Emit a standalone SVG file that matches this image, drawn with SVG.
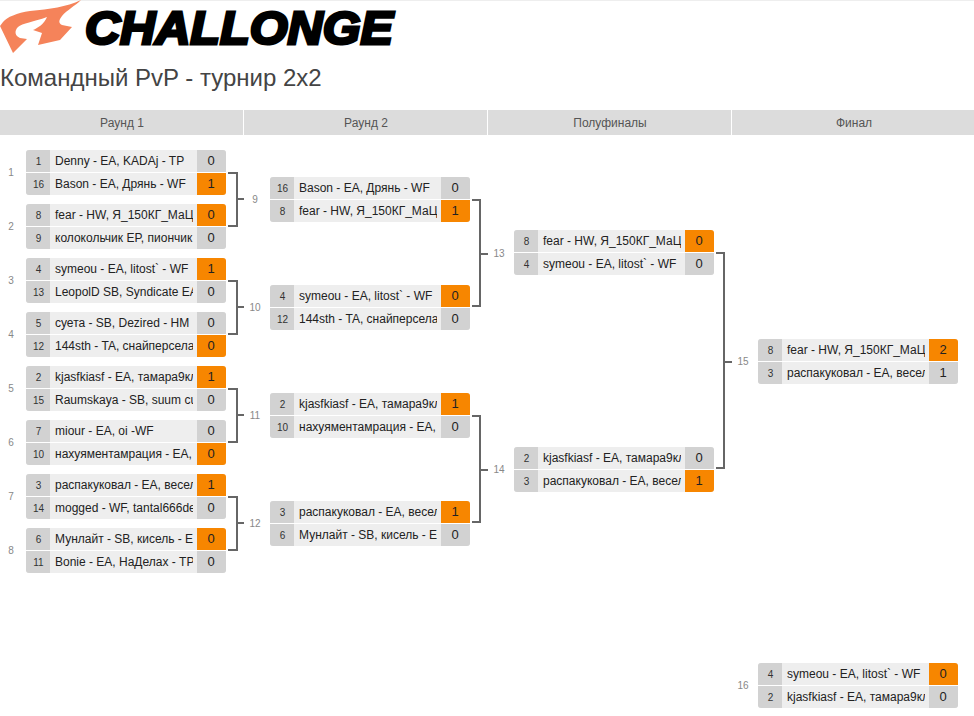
<svg xmlns="http://www.w3.org/2000/svg" width="974" height="716" viewBox="0 0 974 716">
<style>
text{font-family:"Liberation Sans",Arial,sans-serif}
.hd{fill:#dcdcdc}
.ht{font-size:12px;fill:#555;text-anchor:middle}
.bg{fill:#eee}
.sd{fill:#d2d2d2}
.win{fill:#f78600}
.seed{font-size:10px;fill:#333;text-anchor:middle}
.nm{font-size:12px;fill:#222}
.sc{font-size:13px;fill:#222;text-anchor:middle}
.lb{font-size:10px;fill:#888;text-anchor:middle}
.sep{stroke:#fff;stroke-width:1}
.br{fill:none;stroke:#666;stroke-width:2}
</style>
<defs>
<clipPath id="c"><rect x="0" y="0" width="167" height="45"/></clipPath>
<clipPath id="card"><rect x="0" y="0" width="200" height="45" rx="3"/></clipPath>
<g id="shell">
<rect class="bg" width="200" height="45"/>
<rect class="sd" width="24" height="45"/>
</g>
</defs>
<rect width="974" height="716" fill="#fff"/>
<rect width="974" height="1" fill="#eee"/>
<g id="logo">
<path fill="#f5835a" d="M81 0C66 7 50 9 30 11C17 13 7 17 3 22L0 26L13 53L27 39L20 38C15 36 14 31 18 27C22 23 34 22 47 17C44 24 38 28 33 30L42 33L38 45L60 40L72 27L62 25C58 23 59 20 62 16C67 10 75 6 81 0Z"/>
<text x="85" y="44" font-size="47" font-weight="bold" font-style="italic" fill="#000" stroke="#000" stroke-width="3" textLength="308" lengthAdjust="spacingAndGlyphs">CHALLONGE</text>
</g>
<text id="title" x="0" y="86" font-size="24" fill="#444">Командный PvP - турнир 2х2</text>
<g id="rounds">
<rect class="hd" x="0" y="110" width="243" height="25"/>
<rect class="hd" x="244" y="110" width="243" height="25"/>
<rect class="hd" x="488" y="110" width="243" height="25"/>
<rect class="hd" x="732" y="110" width="242" height="25"/>
<text class="ht" x="122" y="127">Раунд 1</text>
<text class="ht" x="366" y="127">Раунд 2</text>
<text class="ht" x="610" y="127">Полуфиналы</text>
<text class="ht" x="854" y="127">Финал</text>
</g>
<g id="connectors">
<path class="br" d="M228 173H237V226H228M237 199H244"/>
<path class="br" d="M228 281H237V334H228M237 307H244"/>
<path class="br" d="M228 389H237V442H228M237 415H244"/>
<path class="br" d="M228 497H237V550H228M237 523H244"/>
<path class="br" d="M472 200H480V306H472M480 254H488"/>
<path class="br" d="M472 416H480V522H472M480 470H488"/>
<path class="br" d="M716 253H724V468H716M724 362H732"/>
</g>
<g id="m1" transform="translate(26 150)"><g clip-path="url(#card)"><use href="#shell"/><rect class="sd" x="171" width="29" height="22"/><rect class="win" x="171" y="23" width="29" height="22"/><line class="sep" x1="0" x2="200" y1="22.5" y2="22.5"/></g><text class="seed" x="12.500" y="15">1</text><text class="seed" x="12.500" y="38">16</text><g clip-path="url(#c)"><text class="nm" x="29" y="15">Denny - EA, KADAj - TP</text><text class="nm" x="29" y="38">Bason - EA, Дрянь - WF</text></g><text class="sc" x="185" y="15">0</text><text class="sc" x="185" y="38">1</text></g>
<text class="lb" x="11" y="176">1</text>
<g id="m2" transform="translate(26 204)"><g clip-path="url(#card)"><use href="#shell"/><rect class="win" x="171" width="29" height="22"/><rect class="sd" x="171" y="23" width="29" height="22"/><line class="sep" x1="0" x2="200" y1="22.5" y2="22.5"/></g><text class="seed" x="12.500" y="15">8</text><text class="seed" x="12.500" y="38">9</text><g clip-path="url(#c)"><text class="nm" x="29" y="15">fear - HW, Я_150КГ_МаЦ</text><text class="nm" x="29" y="38">колокольчик EP, пиончик</text></g><text class="sc" x="185" y="15">0</text><text class="sc" x="185" y="38">0</text></g>
<text class="lb" x="11" y="230">2</text>
<g id="m3" transform="translate(26 258)"><g clip-path="url(#card)"><use href="#shell"/><rect class="win" x="171" width="29" height="22"/><rect class="sd" x="171" y="23" width="29" height="22"/><line class="sep" x1="0" x2="200" y1="22.5" y2="22.5"/></g><text class="seed" x="12.500" y="15">4</text><text class="seed" x="12.500" y="38">13</text><g clip-path="url(#c)"><text class="nm" x="29" y="15">symeou - EA, litost` - WF</text><text class="nm" x="29" y="38">LeopolD SB, Syndicate EA</text></g><text class="sc" x="185" y="15">1</text><text class="sc" x="185" y="38">0</text></g>
<text class="lb" x="11" y="284">3</text>
<g id="m4" transform="translate(26 312)"><g clip-path="url(#card)"><use href="#shell"/><rect class="sd" x="171" width="29" height="22"/><rect class="win" x="171" y="23" width="29" height="22"/><line class="sep" x1="0" x2="200" y1="22.5" y2="22.5"/></g><text class="seed" x="12.500" y="15">5</text><text class="seed" x="12.500" y="38">12</text><g clip-path="url(#c)"><text class="nm" x="29" y="15">суета - SB, Dezired - HM</text><text class="nm" x="29" y="38">144sth - TA, снайперсела</text></g><text class="sc" x="185" y="15">0</text><text class="sc" x="185" y="38">0</text></g>
<text class="lb" x="11" y="338">4</text>
<g id="m5" transform="translate(26 366)"><g clip-path="url(#card)"><use href="#shell"/><rect class="win" x="171" width="29" height="22"/><rect class="sd" x="171" y="23" width="29" height="22"/><line class="sep" x1="0" x2="200" y1="22.5" y2="22.5"/></g><text class="seed" x="12.500" y="15">2</text><text class="seed" x="12.500" y="38">15</text><g clip-path="url(#c)"><text class="nm" x="29" y="15">kjasfkiasf - EA, тамара9кл</text><text class="nm" x="29" y="38">Raumskaya - SB, suum cu</text></g><text class="sc" x="185" y="15">1</text><text class="sc" x="185" y="38">0</text></g>
<text class="lb" x="11" y="392">5</text>
<g id="m6" transform="translate(26 420)"><g clip-path="url(#card)"><use href="#shell"/><rect class="sd" x="171" width="29" height="22"/><rect class="win" x="171" y="23" width="29" height="22"/><line class="sep" x1="0" x2="200" y1="22.5" y2="22.5"/></g><text class="seed" x="12.500" y="15">7</text><text class="seed" x="12.500" y="38">10</text><g clip-path="url(#c)"><text class="nm" x="29" y="15">miour - EA, oi -WF</text><text class="nm" x="29" y="38">нахуяментамрация - EA,</text></g><text class="sc" x="185" y="15">0</text><text class="sc" x="185" y="38">0</text></g>
<text class="lb" x="11" y="446">6</text>
<g id="m7" transform="translate(26 474)"><g clip-path="url(#card)"><use href="#shell"/><rect class="win" x="171" width="29" height="22"/><rect class="sd" x="171" y="23" width="29" height="22"/><line class="sep" x1="0" x2="200" y1="22.5" y2="22.5"/></g><text class="seed" x="12.500" y="15">3</text><text class="seed" x="12.500" y="38">14</text><g clip-path="url(#c)"><text class="nm" x="29" y="15">распакуковал - EA, весел</text><text class="nm" x="29" y="38">mogged - WF, tantal666de</text></g><text class="sc" x="185" y="15">1</text><text class="sc" x="185" y="38">0</text></g>
<text class="lb" x="11" y="500">7</text>
<g id="m8" transform="translate(26 528)"><g clip-path="url(#card)"><use href="#shell"/><rect class="win" x="171" width="29" height="22"/><rect class="sd" x="171" y="23" width="29" height="22"/><line class="sep" x1="0" x2="200" y1="22.5" y2="22.5"/></g><text class="seed" x="12.500" y="15">6</text><text class="seed" x="12.500" y="38">11</text><g clip-path="url(#c)"><text class="nm" x="29" y="15">Мунлайт - SB, кисель - E</text><text class="nm" x="29" y="38">Bonie - EA, НаДелах - TP</text></g><text class="sc" x="185" y="15">0</text><text class="sc" x="185" y="38">0</text></g>
<text class="lb" x="11" y="554">8</text>
<g id="m9" transform="translate(270 177)"><g clip-path="url(#card)"><use href="#shell"/><rect class="sd" x="171" width="29" height="22"/><rect class="win" x="171" y="23" width="29" height="22"/><line class="sep" x1="0" x2="200" y1="22.5" y2="22.5"/></g><text class="seed" x="12.500" y="15">16</text><text class="seed" x="12.500" y="38">8</text><g clip-path="url(#c)"><text class="nm" x="29" y="15">Bason - EA, Дрянь - WF</text><text class="nm" x="29" y="38">fear - HW, Я_150КГ_МаЦ</text></g><text class="sc" x="185" y="15">0</text><text class="sc" x="185" y="38">1</text></g>
<text class="lb" x="255" y="203">9</text>
<g id="m10" transform="translate(270 285)"><g clip-path="url(#card)"><use href="#shell"/><rect class="win" x="171" width="29" height="22"/><rect class="sd" x="171" y="23" width="29" height="22"/><line class="sep" x1="0" x2="200" y1="22.5" y2="22.5"/></g><text class="seed" x="12.500" y="15">4</text><text class="seed" x="12.500" y="38">12</text><g clip-path="url(#c)"><text class="nm" x="29" y="15">symeou - EA, litost` - WF</text><text class="nm" x="29" y="38">144sth - TA, снайперсела</text></g><text class="sc" x="185" y="15">0</text><text class="sc" x="185" y="38">0</text></g>
<text class="lb" x="255" y="311">10</text>
<g id="m11" transform="translate(270 393)"><g clip-path="url(#card)"><use href="#shell"/><rect class="win" x="171" width="29" height="22"/><rect class="sd" x="171" y="23" width="29" height="22"/><line class="sep" x1="0" x2="200" y1="22.5" y2="22.5"/></g><text class="seed" x="12.500" y="15">2</text><text class="seed" x="12.500" y="38">10</text><g clip-path="url(#c)"><text class="nm" x="29" y="15">kjasfkiasf - EA, тамара9кл</text><text class="nm" x="29" y="38">нахуяментамрация - EA,</text></g><text class="sc" x="185" y="15">1</text><text class="sc" x="185" y="38">0</text></g>
<text class="lb" x="255" y="419">11</text>
<g id="m12" transform="translate(270 501)"><g clip-path="url(#card)"><use href="#shell"/><rect class="win" x="171" width="29" height="22"/><rect class="sd" x="171" y="23" width="29" height="22"/><line class="sep" x1="0" x2="200" y1="22.5" y2="22.5"/></g><text class="seed" x="12.500" y="15">3</text><text class="seed" x="12.500" y="38">6</text><g clip-path="url(#c)"><text class="nm" x="29" y="15">распакуковал - EA, весел</text><text class="nm" x="29" y="38">Мунлайт - SB, кисель - E</text></g><text class="sc" x="185" y="15">1</text><text class="sc" x="185" y="38">0</text></g>
<text class="lb" x="255" y="527">12</text>
<g id="m13" transform="translate(514 230)"><g clip-path="url(#card)"><use href="#shell"/><rect class="win" x="171" width="29" height="22"/><rect class="sd" x="171" y="23" width="29" height="22"/><line class="sep" x1="0" x2="200" y1="22.5" y2="22.5"/></g><text class="seed" x="12.500" y="15">8</text><text class="seed" x="12.500" y="38">4</text><g clip-path="url(#c)"><text class="nm" x="29" y="15">fear - HW, Я_150КГ_МаЦ</text><text class="nm" x="29" y="38">symeou - EA, litost` - WF</text></g><text class="sc" x="185" y="15">0</text><text class="sc" x="185" y="38">0</text></g>
<text class="lb" x="499" y="257">13</text>
<g id="m14" transform="translate(514 447)"><g clip-path="url(#card)"><use href="#shell"/><rect class="sd" x="171" width="29" height="22"/><rect class="win" x="171" y="23" width="29" height="22"/><line class="sep" x1="0" x2="200" y1="22.5" y2="22.5"/></g><text class="seed" x="12.500" y="15">2</text><text class="seed" x="12.500" y="38">3</text><g clip-path="url(#c)"><text class="nm" x="29" y="15">kjasfkiasf - EA, тамара9кл</text><text class="nm" x="29" y="38">распакуковал - EA, весел</text></g><text class="sc" x="185" y="15">0</text><text class="sc" x="185" y="38">1</text></g>
<text class="lb" x="499" y="473">14</text>
<g id="m15" transform="translate(758 339)"><g clip-path="url(#card)"><use href="#shell"/><rect class="win" x="171" width="29" height="22"/><rect class="sd" x="171" y="23" width="29" height="22"/><line class="sep" x1="0" x2="200" y1="22.5" y2="22.5"/></g><text class="seed" x="12.500" y="15">8</text><text class="seed" x="12.500" y="38">3</text><g clip-path="url(#c)"><text class="nm" x="29" y="15">fear - HW, Я_150КГ_МаЦ</text><text class="nm" x="29" y="38">распакуковал - EA, весел</text></g><text class="sc" x="185" y="15">2</text><text class="sc" x="185" y="38">1</text></g>
<text class="lb" x="743" y="365">15</text>
<g id="m16" transform="translate(758 663)"><g clip-path="url(#card)"><use href="#shell"/><rect class="win" x="171" width="29" height="22"/><rect class="sd" x="171" y="23" width="29" height="22"/><line class="sep" x1="0" x2="200" y1="22.5" y2="22.5"/></g><text class="seed" x="12.500" y="15">4</text><text class="seed" x="12.500" y="38">2</text><g clip-path="url(#c)"><text class="nm" x="29" y="15">symeou - EA, litost` - WF</text><text class="nm" x="29" y="38">kjasfkiasf - EA, тамара9кл</text></g><text class="sc" x="185" y="15">0</text><text class="sc" x="185" y="38">0</text></g>
<text class="lb" x="743" y="689">16</text>
</svg>
